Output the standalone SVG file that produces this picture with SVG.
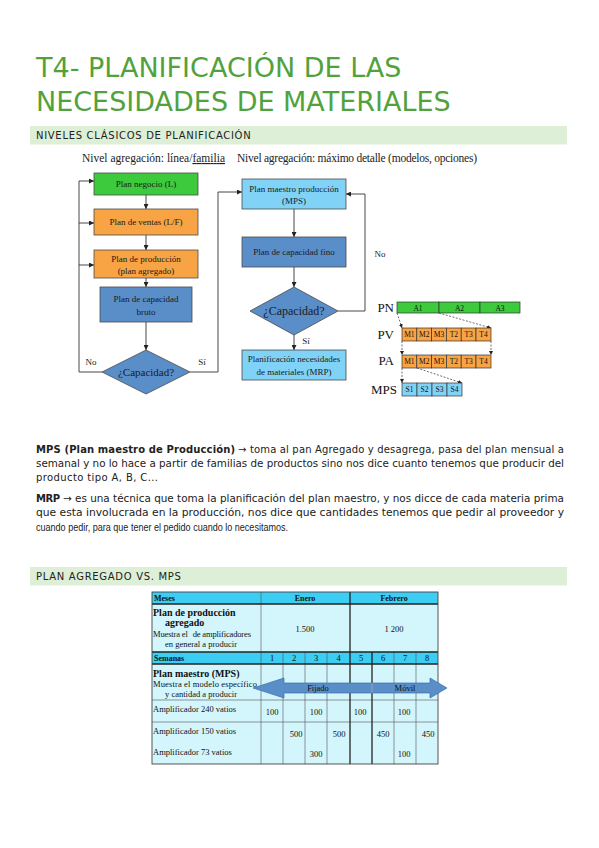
<svg xmlns="http://www.w3.org/2000/svg" width="599" height="848" viewBox="0 0 599 848">
<defs>
<marker id="ah" viewBox="0 0 6 6" refX="6" refY="3" markerWidth="5" markerHeight="5" markerUnits="userSpaceOnUse" orient="auto"><path d="M0,0 L6,3 L0,6 z" fill="#222"/></marker>
<marker id="ahs" viewBox="0 0 6 6" refX="6" refY="3" markerWidth="4" markerHeight="4" markerUnits="userSpaceOnUse" orient="auto"><path d="M0,0 L6,3 L0,6 z" fill="#222"/></marker>
</defs>
<style>
.title{font-family:"DejaVu Sans",sans-serif;font-size:27px;fill:#52a23c}
.sec{fill:#ddefd6}
.sect{font-family:"DejaVu Sans",sans-serif;font-size:10px;letter-spacing:0.7px;fill:#222}
.body{font-family:"DejaVu Sans",sans-serif;font-size:10px;fill:#222}
.body2{font-family:"Liberation Sans",sans-serif;font-size:10.5px;fill:#222}
.b{font-weight:bold}
.hdr{font-family:"Liberation Serif",serif;font-size:11.5px;fill:#222}
.fc{font-family:"Liberation Serif",serif;font-size:9px;fill:#1a1a1a;text-anchor:middle}
.dt{font-family:"Liberation Serif",serif;font-size:11px;fill:#1a1a1a;text-anchor:middle}
.box{stroke:#4a4a4a;stroke-width:0.8}
.g{fill:#3dca3d}.o{fill:#f8a444}.sb{fill:#5a8ec9}.lb{fill:#80d3f7}
.conn{fill:none;stroke:#333;stroke-width:0.9}
.dash{fill:none;stroke:#333;stroke-width:0.7;stroke-dasharray:2 1.5}
.lbl{font-family:"Liberation Serif",serif;font-size:13px;fill:#111;text-anchor:end}
.cell{font-family:"Liberation Serif",serif;font-size:7.5px;fill:#111;text-anchor:middle}
.cs{stroke:#333;stroke-width:0.7}
.th{fill:#3ccdf2}.td{fill:#d3f6fc}
.tl{font-family:"Liberation Serif",serif;font-size:8.5px;fill:#111}
.tb{font-family:"Liberation Serif",serif;font-size:10px;font-weight:bold;fill:#111}
.tbs{font-family:"Liberation Serif",serif;font-size:8px;font-weight:bold;fill:#111}
.tn{font-family:"Liberation Serif",serif;font-size:8.5px;fill:#111;text-anchor:middle}
.gl{stroke:#555;stroke-width:0.6}
.gd{stroke:#222;stroke-width:1.3}
</style>
<rect width="599" height="848" fill="#fff"/>

<g id="title">
<text class="title" x="36" y="77">T4- PLANIFICACIÓN DE LAS</text>
<text class="title" x="36" y="111">NECESIDADES DE MATERIALES</text>
</g>

<g id="section1">
<rect class="sec" x="30" y="126" width="537" height="18.5"/>
<text class="sect" x="36" y="139">NIVELES CLÁSICOS DE PLANIFICACIÓN</text>
</g>

<g id="flow-headers">
<text class="hdr" x="82" y="162" textLength="143">Nivel agregación: línea/<tspan text-decoration="underline">familia</tspan></text>
<text class="hdr" x="237" y="162" textLength="240">Nivel agregación: máximo detalle (modelos, opciones)</text>
</g>

<g id="connectors">
<path class="conn" d="M146,195 V209" marker-end="url(#ah)"/>
<path class="conn" d="M146,235 V250" marker-end="url(#ah)"/>
<path class="conn" d="M146,278 V287" marker-end="url(#ah)"/>
<path class="conn" d="M146,322 V350" marker-end="url(#ah)"/>
<path class="conn" d="M102,372 H79 V181 H94" marker-end="url(#ah)"/>
<path class="conn" d="M79,223 H94" marker-end="url(#ah)"/>
<path class="conn" d="M79,265 H94" marker-end="url(#ah)"/>
<path class="conn" d="M190,372 H218 V192 H242" marker-end="url(#ah)"/>
<path class="conn" d="M294,209 V237" marker-end="url(#ah)"/>
<path class="conn" d="M294,267 V287" marker-end="url(#ah)"/>
<path class="conn" d="M338,311 H365 V194 H346" marker-end="url(#ah)"/>
<path class="conn" d="M294,335 V350" marker-end="url(#ah)"/>
<path class="dash" d="M397,313 L402,328" marker-end="url(#ahs)"/>
<path class="dash" d="M439,313 L491,328" marker-end="url(#ahs)"/>
<path class="dash" d="M402,341 V355" marker-end="url(#ahs)"/>
<path class="dash" d="M491,341 V355" marker-end="url(#ahs)"/>
<path class="dash" d="M402,368 V383" marker-end="url(#ahs)"/>
<path class="dash" d="M417,368 L462,383" marker-end="url(#ahs)"/>
</g>

<g id="flow-labels">
<text class="fc" x="91" y="365">No</text>
<text class="fc" x="202" y="365">Sí</text>
<text class="fc" x="380" y="257">No</text>
<text class="fc" x="306" y="344">Sí</text>
</g>

<g id="n-negocio"><rect class="box g" x="94" y="173" width="104" height="22"/><text class="fc" x="146" y="187">Plan negocio (L)</text></g>
<g id="n-ventas"><rect class="box o" x="94" y="209" width="104" height="26"/><text class="fc" x="146" y="225">Plan de ventas (L/F)</text></g>
<g id="n-produccion"><rect class="box o" x="94" y="250" width="104" height="28"/><text class="fc" x="146" y="262">Plan de producción</text><text class="fc" x="146" y="274">(plan agregado)</text></g>
<g id="n-bruto"><rect class="box sb" x="100" y="287" width="92" height="35"/><text class="fc" x="146" y="302">Plan de capacidad</text><text class="fc" x="146" y="315">bruto</text></g>
<g id="n-cap1"><polygon class="box sb" points="146,350 190,372 146,394 102,372"/><text class="dt" x="146" y="376">¿Capacidad?</text></g>

<g id="n-mps"><rect class="box lb" x="242" y="179" width="104" height="30"/><text class="fc" x="294" y="192">Plan maestro producción</text><text class="fc" x="294" y="204">(MPS)</text></g>
<g id="n-fino"><rect class="box sb" x="242" y="237" width="104" height="30"/><text class="fc" x="294" y="255">Plan de capacidad  fino</text></g>
<g id="n-cap2"><polygon class="box sb" points="294,287 338,311 294,335 250,311"/><text class="dt" x="294" y="315" style="font-size:12px">¿Capacidad?</text></g>
<g id="n-mrp"><rect class="box lb" x="242" y="350" width="104" height="30"/><text class="fc" x="294" y="362">Planificación necesidades</text><text class="fc" x="294" y="375">de materiales (MRP)</text></g>

<g id="n-pn">
<text class="lbl" x="394" y="312">PN</text>
<rect class="cs g" x="397" y="302" width="42" height="11"/><rect class="cs g" x="439" y="302" width="41" height="11"/><rect class="cs g" x="480" y="302" width="40" height="11"/>
<text class="cell" x="418" y="310.5">A1</text><text class="cell" x="459.5" y="310.5">A2</text><text class="cell" x="500" y="310.5">A3</text>
</g>
<g id="n-pv">
<text class="lbl" x="394" y="339">PV</text>
<rect class="cs o" x="402" y="328" width="14.8" height="13"/><rect class="cs o" x="416.8" y="328" width="14.8" height="13"/><rect class="cs o" x="431.6" y="328" width="14.8" height="13"/><rect class="cs o" x="446.4" y="328" width="14.8" height="13"/><rect class="cs o" x="461.2" y="328" width="14.8" height="13"/><rect class="cs o" x="476" y="328" width="15" height="13"/>
<text class="cell" x="409.4" y="337">M1</text><text class="cell" x="424.2" y="337">M2</text><text class="cell" x="439" y="337">M3</text><text class="cell" x="453.8" y="337">T2</text><text class="cell" x="468.6" y="337">T3</text><text class="cell" x="483.5" y="337">T4</text>
</g>
<g id="n-pa">
<text class="lbl" x="394" y="365">PA</text>
<rect class="cs o" x="402" y="355" width="14.8" height="13"/><rect class="cs o" x="416.8" y="355" width="14.8" height="13"/><rect class="cs o" x="431.6" y="355" width="14.8" height="13"/><rect class="cs o" x="446.4" y="355" width="14.8" height="13"/><rect class="cs o" x="461.2" y="355" width="14.8" height="13"/><rect class="cs o" x="476" y="355" width="15" height="13"/>
<text class="cell" x="409.4" y="364">M1</text><text class="cell" x="424.2" y="364">M2</text><text class="cell" x="439" y="364">M3</text><text class="cell" x="453.8" y="364">T2</text><text class="cell" x="468.6" y="364">T3</text><text class="cell" x="483.5" y="364">T4</text>
</g>
<g id="n-mpsbar">
<text class="lbl" x="397" y="394">MPS</text>
<rect class="cs lb" x="402" y="383" width="15" height="13"/><rect class="cs lb" x="417" y="383" width="15" height="13"/><rect class="cs lb" x="432" y="383" width="15" height="13"/><rect class="cs lb" x="447" y="383" width="15" height="13"/>
<text class="cell" x="409.5" y="392">S1</text><text class="cell" x="424.5" y="392">S2</text><text class="cell" x="439.5" y="392">S3</text><text class="cell" x="454.5" y="392">S4</text>
</g>

<g id="paragraphs">
<text class="body b" x="36" y="453" textLength="199">MPS (Plan maestro de Producción)</text>
<text class="body" x="238" y="453" textLength="326">→ toma al pan Agregado y desagrega, pasa del plan mensual a</text>
<text class="body" x="36" y="467" textLength="528" lengthAdjust="spacingAndGlyphs">semanal y no lo hace a partir de familias de productos sino nos dice cuanto tenemos que producir del</text>
<text class="body" x="36" y="481" textLength="122">producto tipo A, B, C...</text>
<text class="body b" x="36" y="502" textLength="24">MRP</text>
<text class="body" x="63" y="502" textLength="501" lengthAdjust="spacingAndGlyphs">→ es una técnica que toma la planificación del plan maestro, y nos dicce de cada materia prima</text>
<text class="body" x="36" y="516" textLength="528" lengthAdjust="spacingAndGlyphs">que esta involucrada en la producción, nos dice que cantidades tenemos que pedir al proveedor y</text>
<text class="body2" x="36" y="531" textLength="252" lengthAdjust="spacingAndGlyphs">cuando pedir, para que tener el pedido cuando lo necesitamos.</text>
</g>

<g id="section2">
<rect class="sec" x="30" y="567" width="537" height="18.5"/>
<text class="sect" x="36" y="580">PLAN AGREGADO VS. MPS</text>
</g>

<g id="table">
<rect class="th" x="152" y="592" width="286" height="12"/>
<rect class="td" x="152" y="604" width="286" height="48"/>
<rect class="th" x="152" y="652" width="286" height="12"/>
<rect class="td" x="152" y="664" width="286" height="100"/>
<g class="gl">
<line x1="261" y1="592" x2="261" y2="764"/>
<line x1="283" y1="652" x2="283" y2="764"/>
<line x1="305" y1="652" x2="305" y2="764"/>
<line x1="327" y1="652" x2="327" y2="764"/>
<line x1="394" y1="652" x2="394" y2="764"/>
<line x1="416" y1="652" x2="416" y2="764"/>
<line x1="152" y1="700" x2="438" y2="700"/>
<line x1="152" y1="722" x2="438" y2="722"/>
</g>
<line class="gd" x1="350" y1="592" x2="350" y2="764"/>
<line class="gd" x1="372" y1="652" x2="372" y2="764"/>
<line class="gd" x1="152" y1="604" x2="438" y2="604"/>
<line class="gd" x1="152" y1="652" x2="438" y2="652"/>
<line class="gd" x1="152" y1="664" x2="438" y2="664"/>
<rect x="152" y="592" width="286" height="172" fill="none" stroke="#444" stroke-width="0.9"/>
<text class="tbs" x="154" y="601">Meses</text>
<text class="tbs" x="305" y="601" text-anchor="middle">Enero</text>
<text class="tbs" x="394" y="601" text-anchor="middle">Febrero</text>
<text class="tb" x="153" y="616">Plan de producción</text>
<text class="tb" x="165" y="626">agregado</text>
<text class="tl" x="153" y="637" textLength="98">Muestra el <tspan dx="3">de amplificadores</tspan></text>
<text class="tl" x="165" y="647">en general a producir</text>
<text class="tn" x="305" y="632">1.500</text>
<text class="tn" x="394" y="632">1 200</text>
<text class="tbs" x="154" y="661">Semanas</text>
<text class="tn" x="272" y="661">1</text><text class="tn" x="294" y="661">2</text><text class="tn" x="316" y="661">3</text><text class="tn" x="338.5" y="661">4</text><text class="tn" x="361" y="661">5</text><text class="tn" x="383" y="661">6</text><text class="tn" x="405" y="661">7</text><text class="tn" x="427" y="661">8</text>
<text class="tb" x="153" y="677">Plan maestro (MPS)</text>
<text class="tl" x="153" y="687" textLength="104">Muestra el modelo específico</text>
<text class="tl" x="165" y="697">y cantidad a producir</text>
<polygon points="253,688 284,678 284,683 430,683 430,678 447,688 430,698 430,693 284,693 284,698" fill="#5a8ec9" stroke="#3d6fa8" stroke-width="0.7"/>
<line x1="372" y1="683" x2="372" y2="693" stroke="#8aa" stroke-width="1"/>
<text class="tn" x="318" y="691">Fijado</text>
<text class="tn" x="405" y="691">Móvil</text>
<text class="tl" x="153" y="712">Amplificador 240 vatios</text>
<text class="tl" x="153" y="734">Amplificador 150 vatios</text>
<text class="tl" x="153" y="755">Amplificador 73 vatios</text>
<text class="tn" x="272" y="715">100</text><text class="tn" x="316" y="715">100</text><text class="tn" x="360" y="715">100</text><text class="tn" x="404" y="715">100</text>
<text class="tn" x="296" y="737">500</text><text class="tn" x="339" y="737">500</text><text class="tn" x="383" y="737">450</text><text class="tn" x="428" y="737">450</text>
<text class="tn" x="316" y="757">300</text><text class="tn" x="404" y="757">100</text>
</g>
</svg>
